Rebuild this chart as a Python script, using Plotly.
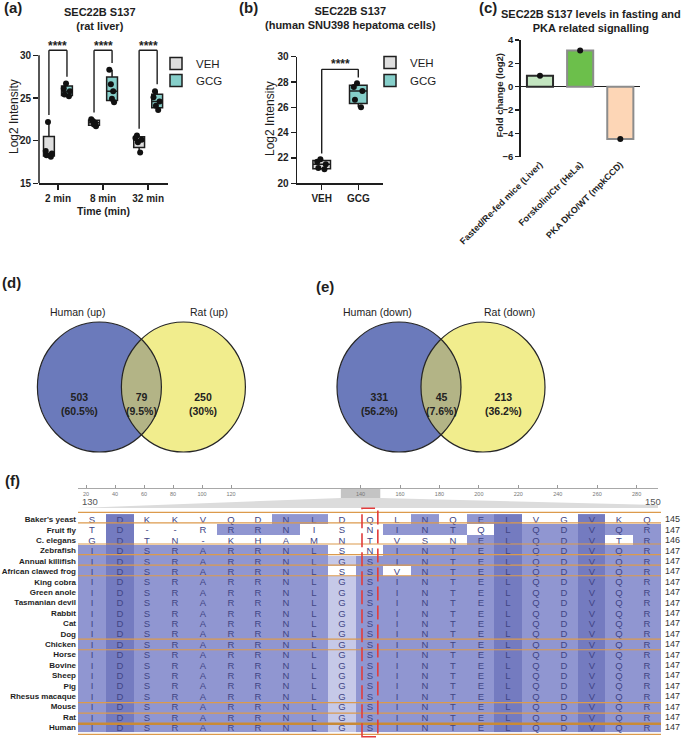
import numpy as np
from collections import Counter
import plotly.graph_objects as go

W, H = 683, 738
def fx(p): return p / W
def fy(p): return 1 - p / H

FONT = "Arial, 'Liberation Sans', sans-serif"
NARROW = "'Liberation Sans Narrow', 'Arial Narrow', 'Liberation Sans', Arial, sans-serif"
INK = "#1e1e1e"

# ---------------- data ----------------
a_times = ["2 min", "8 min", "32 min"]
a_veh = [[22.2, 18.8, 18.5, 18.3, 18.1],
         [22.5, 22.3, 22.1, 21.9, 21.7],
         [20.6, 20.3, 20.1, 19.8, 18.6]]
a_gcg = [[26.7, 26.1, 25.8, 25.4, 25.2],
         [28.3, 26.6, 25.8, 24.9, 24.5],
         [25.8, 25.1, 24.6, 24.1, 23.6]]
a_sig = ["****", "****", "****"]
a_yticks = [15, 20, 25, 30]

b_groups = ["VEH", "GCG"]
b_veh = [21.9, 21.7, 21.5, 21.2, 21.1]
b_gcg = [27.9, 27.6, 27.3, 26.6, 26.0]
b_sig = "****"
b_yticks = [20, 22, 24, 26, 28, 30]

c_labels = ["Fasted/Re-fed mice (Liver)", "Forskolin/Ctr (HeLa)", "PKA DKO/WT (mpkCCD)"]
c_values = [0.93, 3.1, -4.48]
c_yticks = [-6, -4, -2, 0, 2, 4]

d_sets = ["Human (up)", "Rat (up)"]
d_counts = [503, 79, 250]
e_sets = ["Human (down)", "Rat (down)"]
e_counts = [331, 45, 213]

species = ["Baker's yeast", "Fruit fly", "C. elegans", "Zebrafish", "Annual killifish",
           "African clawed frog", "King cobra", "Green anole", "Tasmanian devil", "Rabbit",
           "Cat", "Dog", "Chicken", "Horse", "Bovine", "Sheep", "Pig", "Rhesus macaque",
           "Mouse", "Rat", "Human"]
sequences = ["SDKKVQDNLDQLNQELVGVKQ",
             "TD--RRRNISNINTQLQDVQR",
             "GDTN-KHAMNTVSNELQDVTR",
             "IDSRARRNLSNINTELQDVQR",
             "IDSRARRNLGSINTELQDVQR",
             "IDSRARRNLSSVNTELQDVQR",
             "IDSRARRNLGSINTELQDVQR",
             "IDSRARRNLGSINTELQDVQR",
             "IDSRARRNLGSINTELQDVQR",
             "IDSRARRNLGSINTELQDVQR",
             "IDSRARRNLGSINTELQDVQR",
             "IDSRARRNLGSINTELQDVQR",
             "IDSRARRNLGSINTELQDVQR",
             "IDSRARRNLGSINTELQDVQR",
             "IDSRARRNLGSINTELQDVQR",
             "IDSRARRNLGSINTELQDVQR",
             "IDSRARRNLGSINTELQDVQR",
             "IDSRARRNLGSINTELQDVQR",
             "IDSRARRNLGSINTELQDVQR",
             "IDSRARRNLGSINTELQDVQR",
             "IDSRARRNLGSINTELQDVQR"]
seq_end = [145, 147, 146, 147, 147, 147, 147, 147, 147, 147, 147,
           147, 147, 147, 147, 147, 147, 147, 147, 147, 147]
taxon_group_sizes = [1, 2, 1, 1, 1, 6, 1, 5, 1, 1, 1]
window_start, window_end = 130, 150
highlight_pos = 140
ruler_left_ticks = [20, 40, 60, 80, 100, 120]
ruler_right_ticks = [140, 160, 180, 200, 220, 240, 260, 280]

# ---------------- styles ----------------
VEH_FILL = "#dedede"
GCG_FILL = "#86cfca"
BAR_FILL = ["#c3e5c0", "#6cbf4b", "#fdd6b6"]
BAR_EDGE = ["#2a2a2a", "#8c8c8c", "#8c8c8c"]
VENN_L, VENN_R, VENN_X = "#6b7abb", "#f1ed8d", "#b3b486"
ALN_COLORS = ["#ffffff", "#c6c9e8", "#9096d1", "#747bc0"]
ORANGE = "#dc9a4c"

fig = go.Figure()

def tf(size, bold=True, color=INK, family=FONT):
    d = dict(family=family, size=size, color=color)
    if bold:
        d["weight"] = "bold"
    return d

def note(text, x, y, font, **kw):
    d = dict(text=text, x=fx(x), y=fy(y), xref="paper", yref="paper", showarrow=False,
             xanchor="center", yanchor="middle", font=font)
    d.update(kw)
    return d

# ---------------- panel a ----------------
for name, vals, fill, og, lg in [("VEH", a_veh, VEH_FILL, "veh", "legend"),
                                 ("GCG", a_gcg, GCG_FILL, "gcg", "legend3")]:
    xs = [t for t, v in zip(a_times, vals) for _ in v]
    ys = [y for v in vals for y in v]
    fig.add_trace(go.Box(x=xs, y=ys, name=name, fillcolor=fill,
                         line=dict(color=INK, width=1.5), boxpoints="all", jitter=0.7,
                         pointpos=0, marker=dict(color="#111111", size=6),
                         whiskerwidth=0, quartilemethod="exclusive", offsetgroup=og,
                         xaxis="x", yaxis="y", legend=lg, hoverinfo="skip"))

shapes = []
annotations = []
A_OFF = 0.2
A_TOP = 30.6
for i, (v, g, s) in enumerate(zip(a_veh, a_gcg, a_sig)):
    xv, xg = i - A_OFF, i + A_OFF
    for (x0, y0, x1, y1) in [(xv, max(v) + 0.8, xv, A_TOP), (xv, A_TOP, xg, A_TOP),
                             (xg, A_TOP, xg, max(g) + 0.8)]:
        shapes.append(dict(type="line", xref="x", yref="y", x0=x0, y0=y0, x1=x1, y1=y1,
                           line=dict(color=INK, width=1.4)))
    annotations.append(dict(x=i, y=A_TOP - 0.55, xref="x", yref="y", text=s, showarrow=False,
                            xanchor="center", yanchor="bottom", font=tf(12)))
shapes.append(dict(type="line", xref="paper", yref="y", x0=fx(39), x1=fx(39),
                   y0=min(a_yticks), y1=max(a_yticks), line=dict(color=INK, width=1.5)))

# ---------------- panel b ----------------
for name, vals, fill, lg in [("VEH", b_veh, VEH_FILL, "legend2"), ("GCG", b_gcg, GCG_FILL, "legend4")]:
    fig.add_trace(go.Box(x=[name] * len(vals), y=vals, name=name, fillcolor=fill,
                         line=dict(color=INK, width=1.5), boxpoints="all", jitter=0.6,
                         pointpos=0, marker=dict(color="#111111", size=6),
                         whiskerwidth=0, quartilemethod="exclusive", offsetgroup="b",
                         xaxis="x2", yaxis="y2", legend=lg, hoverinfo="skip"))
B_TOP = 29.0
for (x0, y0, x1, y1) in [(0, max(b_veh) + 0.45, 0, B_TOP), (0, B_TOP, 1, B_TOP),
                         (1, B_TOP, 1, max(b_gcg) + 0.45)]:
    shapes.append(dict(type="line", xref="x2", yref="y2", x0=x0, y0=y0, x1=x1, y1=y1,
                       line=dict(color=INK, width=1.4)))
annotations.append(dict(x=0.5, y=B_TOP - 0.32, xref="x2", yref="y2", text=b_sig,
                        showarrow=False, xanchor="center", yanchor="bottom", font=tf(12)))

# ---------------- panel c ----------------
fig.add_trace(go.Bar(x=c_labels, y=c_values, width=0.65,
                     marker=dict(color=BAR_FILL, line=dict(color=BAR_EDGE, width=2)),
                     xaxis="x3", yaxis="y3", showlegend=False, hoverinfo="skip"))
fig.add_trace(go.Scatter(x=c_labels, y=c_values, mode="markers",
                         marker=dict(color="#111111", size=6), xaxis="x3", yaxis="y3",
                         showlegend=False, hoverinfo="skip"))

# ---------------- panels d, e (Venn) ----------------
V_H, V_RX, V_RY = 42, 62, 65

def lens_path(h, rx, ry, n=60):
    yi = ry * np.sqrt(1 - (h / rx) ** 2)
    t0 = np.arcsin(yi / ry)
    t1 = np.linspace(-t0, t0, n)
    t2 = np.linspace(t0, -t0, n)
    xs = np.r_[-h + rx * np.cos(t1), h - rx * np.cos(t2)]
    ys = np.r_[ry * np.sin(t1), ry * np.sin(t2)]
    return "M " + " L ".join(f"{x:.2f},{y:.2f}" for x, y in zip(xs, ys)) + " Z"

def pct(n, tot):
    return f"{100 * n / tot:.1f}".rstrip("0").rstrip(".") + "%"

def venn(ax, sets, counts):
    xr, yr = "x" + ax, "y" + ax
    for cx, col in [(-V_H, VENN_L), (V_H, VENN_R)]:
        shapes.append(dict(type="circle", xref=xr, yref=yr, x0=cx - V_RX, x1=cx + V_RX,
                           y0=-V_RY, y1=V_RY, fillcolor=col, line=dict(width=0)))
    shapes.append(dict(type="path", xref=xr, yref=yr, path=lens_path(V_H, V_RX, V_RY),
                       fillcolor=VENN_X, line=dict(width=0)))
    for cx in (-V_H, V_H):
        shapes.append(dict(type="circle", xref=xr, yref=yr, x0=cx - V_RX, x1=cx + V_RX,
                           y0=-V_RY, y1=V_RY, line=dict(color="#262626", width=1.2)))
    tot = sum(counts)
    mid = (V_H + V_RX + (V_RX - V_H)) / 2
    for x, n in zip([-mid, 0, mid], counts):
        annotations.append(dict(x=x, y=-17, xref=xr, yref=yr, showarrow=False,
                                xanchor="center", yanchor="middle",
                                text=f"{n}<br>({pct(n, tot)})",
                                font=tf(10.5, True, "#222222", NARROW)))
    for x, s in zip([-64, 68], sets):
        annotations.append(dict(x=x, y=75, xref=xr, yref=yr, showarrow=False, text=s,
                                xanchor="center", yanchor="middle",
                                font=tf(10.5, False, "#222222", NARROW)))
    fig.add_trace(go.Scatter(x=[None], y=[None], xaxis=xr, yaxis=yr, showlegend=False,
                             hoverinfo="skip"))

venn("4", d_sets, d_counts)
venn("5", e_sets, e_counts)

# ---------------- panel f (alignment) ----------------
positions = list(range(window_start, window_end + 1))
ncol = len(positions)
levels = np.zeros((len(sequences), ncol))
for j in range(ncol):
    col = [s[j] for s in sequences]
    cons, cnt = Counter(c for c in col if c != "-").most_common(1)[0]
    frac = cnt / len(col)
    lev = 3 if frac == 1 else 2 if frac > 0.8 else 1 if frac > 0.6 else 0
    for i, c in enumerate(col):
        levels[i, j] = lev if c == cons else 0
letters = [list(s) for s in sequences]
c0, c1, c2, c3 = ALN_COLORS
cscale = [[0, c0], [1 / 6, c0], [1 / 6, c1], [0.5, c1], [0.5, c2], [5 / 6, c2], [5 / 6, c3], [1, c3]]
fig.add_trace(go.Heatmap(x=positions, y=species, z=levels, text=letters,
                         texttemplate="%{text}", textfont=dict(family=FONT, size=9.5, color="#414585"),
                         colorscale=cscale, zmin=0, zmax=3, showscale=False,
                         xaxis="x6", yaxis="y6", hoverinfo="skip"))

ALN_TOP, ALN_BOT, ALN_L, ALN_R = 512.3, 734.3, 78, 661
row_h = (ALN_BOT - ALN_TOP) / len(species)
bounds = np.r_[0, np.cumsum(taxon_group_sizes)]
for k, b in enumerate(bounds):
    thick = (k == len(bounds) - 2)
    shapes.append(dict(type="line", xref="paper", yref="paper", x0=fx(ALN_L), x1=fx(ALN_R),
                       y0=fy(ALN_TOP + b * row_h), y1=fy(ALN_TOP + b * row_h),
                       line=dict(color="#c98a36" if thick else ORANGE, width=2.6 if thick else 1.2)))
for sp, e in zip(species, seq_end):
    annotations.append(dict(x=fx(ALN_R + 2), y=sp, xref="paper", yref="y6", xanchor="left",
                            yanchor="middle", showarrow=False, text=str(e),
                            font=tf(9, False, "#333333")))
shapes.append(dict(type="rect", xref="x6", yref="paper", x0=highlight_pos - 0.27,
                   x1=highlight_pos + 0.3, y0=fy(736.7), y1=fy(508.3),
                   line=dict(color="#e23c3c", width=1.6, dash="14px,5px")))

# ruler (non-uniform, two segments)
def left_v(p): return 20 + (p - 86) / 1.45
def right_v(p): return 160 + (p - 400) / 1.972
R_SPLIT = 336
box_l = 400 + (window_start - 160) * 1.972
box_r = 400 + (window_end - 160) * 1.972
shapes.append(dict(type="path", xref="paper", yref="paper", layer="below",
                   path=f"M {fx(78)},{fy(508)} L {fx(box_l)},{fy(498)} L {fx(box_r)},{fy(498)} "
                        f"L {fx(658)},{fy(505)} L {fx(658)},{fy(508)} Z",
                   fillcolor="#dcdcdc", line=dict(width=0)))
shapes.append(dict(type="rect", xref="x8", yref="paper", layer="below",
                   x0=window_start, x1=window_end, y0=fy(498), y1=fy(488.3),
                   fillcolor="#c4c4c4", line=dict(width=0)))
annotations.append(note(str(window_start), 80, 501, tf(9.5, False, "#555555"), xanchor="left"))
annotations.append(note(str(window_end), 663, 501, tf(9.5, False, "#555555"), xanchor="right"))
for ax in ("x7", "x8"):
    fig.add_trace(go.Scatter(x=[None], y=[None], xaxis=ax, yaxis="y7", showlegend=False,
                             hoverinfo="skip"))

# ---------------- text annotations ----------------
for txt, x, y in [("(a)", 12.5, 8), ("(b)", 248.7, 8), ("(c)", 488, 7.5),
                  ("(d)", 11, 283), ("(e)", 325, 286), ("(f)", 12, 480)]:
    annotations.append(note(txt, x, y, tf(15)))
for txt, x, y in [("SEC22B S137<br>(rat liver)", 100, 18.7),
                  ("SEC22B S137<br>(human SNU398 hepatoma cells)", 350, 18.3),
                  ("SEC22B S137 levels in fasting and<br>PKA related signalling", 591, 21)]:
    annotations.append(note(txt, x, y, tf(11)))
annotations += [
    note("Log2 Intensity", 14, 117, tf(12, False), textangle=-90),
    note("Time (min)", 103.5, 211, tf(10.5)),
    note("Log2 Intensity", 270, 119, tf(12, False), textangle=-90),
    note("Fold change (log2)", 498.5, 96, tf(9.5), textangle=-90),
]

# ---------------- layout ----------------
def ax_base(**kw):
    d = dict(showgrid=False, zeroline=False, showline=True, linecolor=INK, linewidth=1.5,
             ticks="outside", ticklen=5, tickwidth=1.5, tickcolor=INK, tickfont=tf(10),
             fixedrange=True, automargin=False)
    d.update(kw)
    return d

def leg(x, y):
    return dict(x=fx(x), y=fy(y), xanchor="left", yanchor="top", bgcolor="rgba(0,0,0,0)",
                font=dict(family=FONT, size=11.5, color=INK), tracegroupgap=0)

hidden = dict(visible=False, showgrid=False, zeroline=False, fixedrange=True, automargin=False)
VC = 387
VR = 88

fig.update_layout(
    width=W, height=H, margin=dict(l=0, r=0, t=0, b=0, autoexpand=False),
    paper_bgcolor="white", plot_bgcolor="rgba(0,0,0,0)",
    font=dict(family=FONT, color=INK), hovermode=False,
    boxmode="group", boxgap=0.2, boxgroupgap=0.4,
    xaxis=ax_base(domain=[fx(39), fx(168)], anchor="y", type="category",
                  categoryorder="array", categoryarray=a_times, range=[-0.42, 2.44]),
    yaxis=ax_base(domain=[fy(183.3), fy(41.7)], anchor="x", range=[15, 31.6],
                  tickvals=a_yticks, showline=False),
    xaxis2=ax_base(domain=[fx(297), fx(383)], anchor="y2", type="category",
                   categoryorder="array", categoryarray=b_groups, range=[-0.675, 1.675]),
    yaxis2=ax_base(domain=[fy(183.3), fy(56.7)], anchor="x2", range=[20, 30],
                   tickvals=b_yticks),
    xaxis3=ax_base(domain=[fx(520.7), fx(640)], anchor="y3", type="category",
                   range=[-0.48, 2.49], showline=False, ticks="", tickangle=-45,
                   tickfont=tf(9)),
    yaxis3=ax_base(domain=[fy(156.7), fy(40)], anchor="x3", range=[-6, 4],
                   tickvals=c_yticks, zeroline=True, zerolinecolor=INK, zerolinewidth=1.5,
                   ticklen=4, tickfont=tf(9.5)),
    xaxis4=dict(hidden, domain=[fx(141.4 - 110), fx(141.4 + 110)], anchor="y4", range=[-110, 110]),
    yaxis4=dict(hidden, domain=[fy(VC + VR), fy(VC - VR)], anchor="x4", range=[-VR, VR]),
    xaxis5=dict(hidden, domain=[fx(441 - 110), fx(441 + 110)], anchor="y5", range=[-110, 110]),
    yaxis5=dict(hidden, domain=[fy(VC + VR), fy(VC - VR)], anchor="x5", range=[-VR, VR]),
    xaxis6=dict(hidden, domain=[fx(ALN_L), fx(ALN_R)], anchor="y6",
                range=[window_start - 0.5, window_end + 0.5]),
    yaxis6=dict(domain=[fy(ALN_BOT), fy(ALN_TOP)], anchor="x6", type="category",
                autorange="reversed", showgrid=False, zeroline=False, showline=False,
                ticks="", tickfont=tf(8), ticklabelstandoff=1, fixedrange=True,
                automargin=False),
    yaxis7=dict(hidden, domain=[fy(488.3), fy(480)], anchor="x7", range=[0, 1]),
    xaxis7=dict(domain=[fx(78), fx(R_SPLIT)], anchor="y7", range=[left_v(78), left_v(R_SPLIT)],
                tickvals=ruler_left_ticks, ticks="inside", ticklen=3, tickcolor="#9a9a9a",
                showline=True, linecolor="#a8a8a8", linewidth=1, showgrid=False, zeroline=False,
                tickfont=dict(family=FONT, size=5.5, color="#777777"), fixedrange=True,
                automargin=False),
    xaxis8=dict(domain=[fx(R_SPLIT), fx(658)], anchor="y7", range=[right_v(R_SPLIT), right_v(658)],
                tickvals=ruler_right_ticks, ticks="inside", ticklen=3, tickcolor="#9a9a9a",
                showline=True, linecolor="#a8a8a8", linewidth=1, showgrid=False, zeroline=False,
                tickfont=dict(family=FONT, size=5.5, color="#777777"), fixedrange=True,
                automargin=False),
    legend=leg(156, 49), legend3=leg(156, 66),
    legend2=leg(370, 48), legend4=leg(370, 66),
    shapes=shapes, annotations=annotations,
)

fig.write_html("out.html", config={"displayModeBar": False, "staticPlot": True},
               post_script="document.body.style.margin='0';document.body.style.overflow='hidden';")
